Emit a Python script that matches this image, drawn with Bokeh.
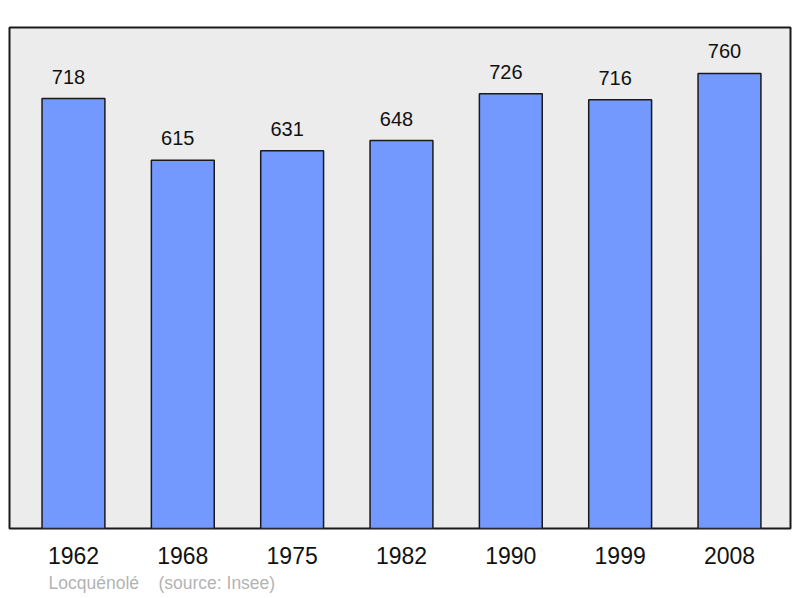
from bokeh.plotting import figure
from bokeh.models import Range1d, FixedTicker, Title, ColumnDataSource
from bokeh.embed import file_html
from bokeh.resources import INLINE
from bokeh.core.properties import value

years = ["1962", "1968", "1975", "1982", "1990", "1999", "2008"]
population = [718, 615, 631, 648, 726, 716, 760]
commune = "Locquénolé"
source_note = "(source: Insee)"

xs = list(range(len(years)))
src = ColumnDataSource(dict(x=xs, top=population, lbl=[str(v) for v in population]))

x_start, x_end = -0.585, 6.558
p = figure(width=792, height=598, output_backend="svg", toolbar_location=None,
           x_range=Range1d(x_start, x_end), y_range=Range1d(0, max(population) * 1.101),
           min_border_left=9, min_border_right=2, min_border_top=27, min_border_bottom=70)
p.background_fill_color = "#ececec"
p.border_fill_color = "white"
p.outline_line_color = "#1a1a1a"
p.outline_line_width = 2
p.grid.visible = False
p.yaxis.visible = False

p.vbar(x="x", top="top", width=0.575, bottom=0, source=src,
       fill_color="#7399ff", line_color="#1a1a1a", line_width=1.5)
p.text(x="x", y="top", text="lbl", source=src, x_offset=-5, y_offset=-22,
       text_align="center", text_baseline="alphabetic",
       text_font=value("Liberation Sans"), text_font_size="20px", text_color="#111111")

ax = p.xaxis[0]
ax.ticker = FixedTicker(ticks=xs)
ax.major_label_overrides = {i: y for i, y in enumerate(years)}
ax.axis_line_color = None
ax.major_tick_line_color = None
ax.minor_tick_line_color = None
ax.major_tick_out = 0
ax.major_tick_in = 0
ax.major_label_text_font = "Liberation Sans"
ax.major_label_text_font_size = "23px"
ax.major_label_text_color = "#111111"
ax.major_label_standoff = 18

footer = Title(text=commune + "\u00a0\u00a0\u00a0\u00a0" + source_note, align="left", offset=39,
               standoff=9, text_font="Liberation Sans", text_font_size="17.5px",
               text_font_style="normal", text_color="#b3b3b3")
p.add_layout(footer, "below")

open("out.html", "w").write(file_html(p, INLINE))
